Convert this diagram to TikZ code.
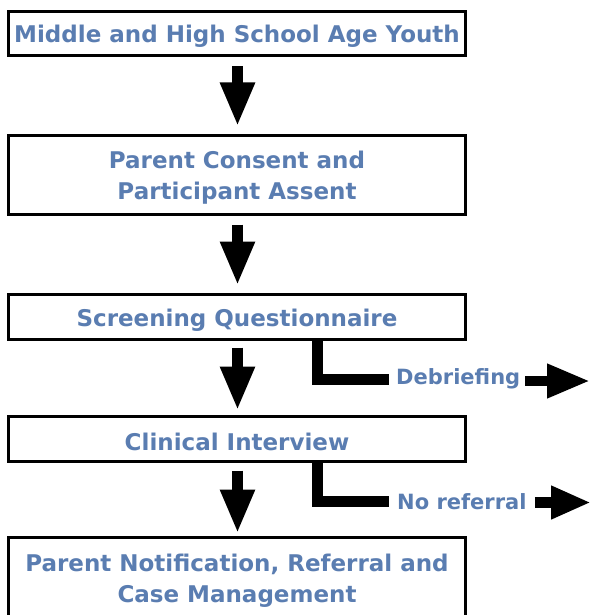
\documentclass[tikz,border=0pt]{standalone}
\usepackage{fontspec}
\setmainfont{DejaVu Sans}
\usetikzlibrary{arrows.meta}
\definecolor{labblue}{RGB}{90,125,177}
\begin{document}
\begin{tikzpicture}[x=1pt,y=-1pt,
  lab/.style={text=labblue,font=\fontsize{23}{31}\selectfont\bfseries},
  txt/.style={lab,align=center,inner sep=0pt,yshift=-3pt},
  box/.style={draw=black,line width=3pt,fill=white,minimum width=457pt,inner sep=0pt},
  blockarrow/.style={line width=11pt,-{Triangle[width=32pt,length=44pt]}},
  branch/.style={line width=11pt,line cap=butt,line join=miter},
  side/.style={lab,font=\fontsize{21}{28}\selectfont\bfseries,inner sep=0pt,anchor=west}]
\useasboundingbox (0,0) rectangle (592,615);
\clip (0,0) rectangle (592,615);
\fill[white] (0,0) rectangle (592,615);

\node[box,minimum height=44pt,label={[txt,name=youthT]center:{Middle and High School Age Youth}}] (youth) at (237,33.5) {};
\node[box,minimum height=79pt,label={[txt,name=consentT]center:{Parent Consent and\\Participant Assent}}] (consent) at (237,175) {};
\node[box,minimum height=45pt,label={[txt,name=screenT]center:{Screening Questionnaire}}] (screen) at (237,317) {};
\node[box,minimum height=45pt,label={[txt,name=clinT]center:{Clinical Interview}}] (clin) at (237,439) {};
\node[box,minimum height=80pt,label={[txt,name=notifT]center:{Parent Notification, Referral and\\Case Management}}] (notif) at (237,577.5) {};

\draw[blockarrow,shorten <=9.5pt,shorten >=7.5pt] ([xshift=0.5pt]youth.south) -- ([xshift=0.5pt]consent.north);
\draw[blockarrow,shorten <=8.5pt,shorten >=7.5pt] ([xshift=0.5pt]consent.south) -- ([xshift=0.5pt]screen.north);
\draw[blockarrow,shorten <=6.5pt,shorten >=4.5pt] ([xshift=0.5pt]screen.south) -- ([xshift=0.5pt]clin.north);
\draw[blockarrow,shorten <=7.5pt,shorten >=2.5pt] ([xshift=0.5pt]clin.south) -- ([xshift=0.5pt]notif.north);

\coordinate (b1) at (389,379);
\draw[branch] ([xshift=80.5pt]screen.south) |- (b1);
\node[side] (deb) at (396,379) {Debriefing};
\coordinate (d2) at (590,381);
\draw[line width=10pt,-{Triangle[width=32pt,length=43pt]},shorten <=5pt] (deb.east |- d2) -- (d2);

\coordinate (b2) at (389,501.5);
\draw[branch] ([xshift=80.5pt]clin.south) |- (b2);
\node[side] (noref) at (397,502) {No referral};
\coordinate (n2) at (591,502.5);
\draw[line width=11pt,-{Triangle[width=31pt,length=40pt]},shorten <=8pt] (noref.east |- n2) -- (n2);
\end{tikzpicture}
\end{document}
